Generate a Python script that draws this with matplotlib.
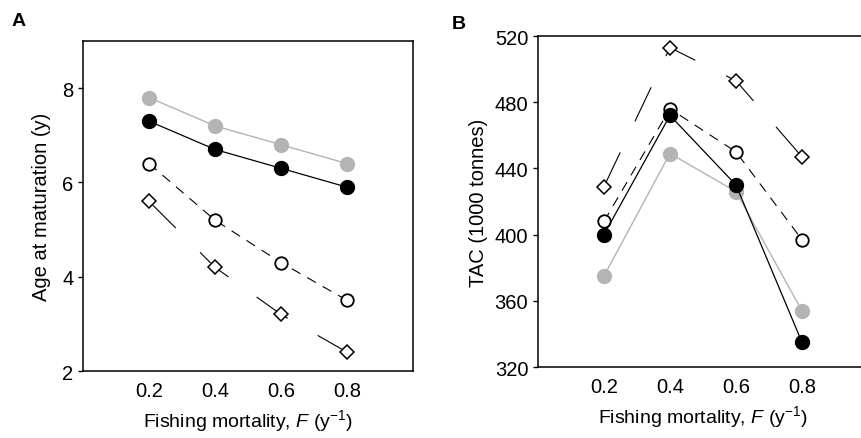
import matplotlib
matplotlib.use('Agg')
import matplotlib.pyplot as plt

plt.rcParams['font.family'] = ['Liberation Sans', 'DejaVu Sans']
plt.rcParams['mathtext.fontset'] = 'custom'
plt.rcParams['mathtext.rm'] = 'Liberation Sans'
plt.rcParams['mathtext.it'] = 'Liberation Sans:italic'

F = [0.2, 0.4, 0.6, 0.8]

# panel A: age at maturation (y)
age_gray = [7.8, 7.2, 6.8, 6.4]
age_black = [7.3, 6.7, 6.3, 5.9]
age_open = [6.4, 5.2, 4.3, 3.5]
age_diamond = [5.6, 4.2, 3.2, 2.4]

# panel B: TAC (1000 tonnes)
tac_gray = [375, 449, 426, 354]
tac_black = [400, 472, 430, 335]
tac_open = [408, 476, 450, 397]
tac_diamond = [429, 513, 493, 447]

xlabel = 'Fishing mortality, $\\mathit{F}$ (y$^{\\mathregular{-1}}$)'

GRAY = '#b4b4b4'


def draw(ax, gray, black, hollow, diamond):
    ax.plot(F, diamond, color='black', lw=0.8, dashes=(34, 31),
            marker='D', ms=7.5, mfc='white', mec='black', mew=1.1, zorder=2)
    ax.plot(F, hollow, color='black', lw=0.8, dashes=(9, 7),
            marker='o', ms=9, mfc='white', mec='black', mew=1.3, zorder=3)
    ax.plot(F, gray, color=GRAY, lw=1.0, marker='o', ms=10,
            mfc=GRAY, mec=GRAY, zorder=4)
    ax.plot(F, black, color='black', lw=0.9, marker='o', ms=10,
            mfc='black', mec='black', zorder=5)
    ax.set_xlim(0, 1)
    ax.set_xticks(F)
    ax.set_xticklabels(['0.2', '0.4', '0.6', '0.8'])
    ax.tick_params(axis='x', length=0, pad=7, labelsize=14.5)
    ax.tick_params(axis='y', length=3.5, width=1, direction='out', labelsize=14.5)
    for s in ax.spines.values():
        s.set_linewidth(1.1)
    ax.set_xlabel(xlabel, fontsize=14, labelpad=5)


fig = plt.figure(figsize=(8.62, 4.39), dpi=100)

axA = fig.add_axes([0.0963, 0.1526, 0.3828, 0.7517])
draw(axA, age_gray, age_black, age_open, age_diamond)
axA.set_ylim(2, 9)
axA.set_yticks([2, 4, 6, 8])
axA.set_ylabel('Age at maturation (y)', fontsize=14.5, labelpad=8)

axB = fig.add_axes([0.6241, 0.1617, 0.3828, 0.754])
draw(axB, tac_gray, tac_black, tac_open, tac_diamond)
axB.set_ylim(320, 520)
axB.set_yticks([320, 360, 400, 440, 480, 520])
axB.set_ylabel('TAC (1000 tonnes)', fontsize=14.5, labelpad=5)

fig.text(0.013, 0.94, 'A', fontsize=14, fontweight='bold')
fig.text(0.524, 0.935, 'B', fontsize=14, fontweight='bold')

fig.savefig('out.png', dpi=100)
